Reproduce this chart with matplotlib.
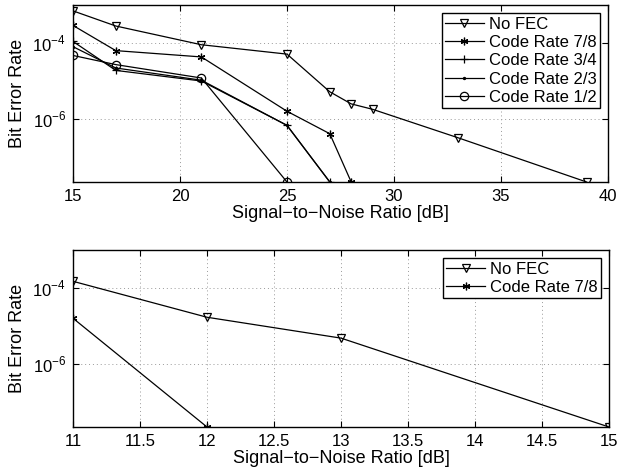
import matplotlib
matplotlib.use("Agg")
import matplotlib.pyplot as plt
from matplotlib.ticker import FixedLocator, NullLocator

plt.rcParams['font.family'] = ['Liberation Sans', 'DejaVu Sans']
plt.rcParams['mathtext.fontset'] = 'custom'
plt.rcParams['mathtext.rm'] = 'Liberation Sans'

YMIN = 2.2e-8
YMAX = 1e-3

# Top panel data
snr_nofec = [15, 17, 21, 25, 27, 28, 29, 33, 39]
ber_nofec = [7.0e-4, 2.8e-4, 9.0e-5, 5.1e-5, 5.2e-6, 2.5e-6, 1.8e-6, 3.2e-7, YMIN]
snr_78 = [15, 17, 21, 25, 27, 28]
ber_78 = [2.9e-4, 6.3e-5, 4.3e-5, 1.6e-6, 4.1e-7, YMIN]
snr_34 = [15, 17, 21, 25, 27]
ber_34 = [1.1e-4, 1.9e-5, 1.0e-5, 6.8e-7, YMIN]
snr_23 = [15, 17, 21, 25, 27]
ber_23 = [8.0e-5, 2.2e-5, 1.05e-5, 6.8e-7, YMIN]
snr_12 = [15, 17, 21, 25]
ber_12 = [4.7e-5, 2.7e-5, 1.2e-5, YMIN]

# Bottom panel data
snr2_nofec = [11, 12, 13, 15]
ber2_nofec = [1.5e-4, 1.7e-5, 4.8e-6, YMIN]
snr2_78 = [11, 12]
ber2_78 = [1.6e-5, YMIN]

top_xticks = [15, 20, 25, 30, 35, 40]
bot_xticks = [11, 11.5, 12, 12.5, 13, 13.5, 14, 14.5, 15]

W, H = 636, 471
fig = plt.figure(figsize=(W / 100, H / 100), dpi=100)

def rect(l, t, r, b):
    return [l / W, 1 - b / H, (r - l) / W, (b - t) / H]

ax1 = fig.add_axes(rect(73, 5, 608, 182))
ax2 = fig.add_axes(rect(73, 250, 609, 427))

lk = dict(color='black', lw=0.9, markersize=6, markeredgewidth=0.9)
ast = (6, 2, 0)

ax1.plot(snr_nofec, ber_nofec, marker='v', mfc='none', label='No FEC', **lk)
ax1.plot(snr_78, ber_78, marker=ast, label='Code Rate 7/8', **{**lk, 'markersize': 5.5})
ax1.plot(snr_34, ber_34, marker='+', label='Code Rate 3/4', **{**lk, 'markersize': 6})
ax1.plot(snr_23, ber_23, marker='.', label='Code Rate 2/3', **{**lk, 'markersize': 3})
ax1.plot(snr_12, ber_12, marker='o', mfc='none', label='Code Rate 1/2', **lk)

ax2.plot(snr2_nofec, ber2_nofec, marker='v', mfc='none', label='No FEC', **lk)
ax2.plot(snr2_78, ber2_78, marker=ast, label='Code Rate 7/8', **{**lk, 'markersize': 5.5})

for ax, xt, xl in [(ax1, top_xticks, (15, 40)), (ax2, bot_xticks, (11, 15))]:
    ax.set_yscale('log')
    ax.set_ylim(YMIN, YMAX)
    ax.set_xlim(*xl)
    ax.set_xticks(xt)
    ax.set_xticklabels([f'{v:g}' for v in xt])
    ax.yaxis.set_major_locator(FixedLocator([1e-6, 1e-4]))
    ax.yaxis.set_minor_locator(NullLocator())
    ax.set_yticklabels([r'$10^{-6}$', r'$10^{-4}$'])
    ax.grid(True, which='major', linestyle=(0, (1, 3)), color='#999999', lw=0.7)
    ax.tick_params(direction='in', labelsize=12, length=4, top=True, right=True, width=0.8, pad=5)
    for s in ax.spines.values():
        s.set_linewidth(1.0)
    ax.set_xlabel('Signal\u2212to\u2212Noise Ratio [dB]', fontsize=13, labelpad=1)
    ax.set_ylabel('Bit Error Rate', fontsize=13, labelpad=5)
    leg = ax.legend(loc='upper right', fontsize=12, frameon=True, fancybox=False,
                    edgecolor='black', framealpha=1, handlelength=2.3, handletextpad=0.3,
                    borderpad=0.2, labelspacing=0.2, borderaxespad=0.5)
    leg.get_frame().set_linewidth(1.0)

fig.savefig('out.png', dpi=100)
